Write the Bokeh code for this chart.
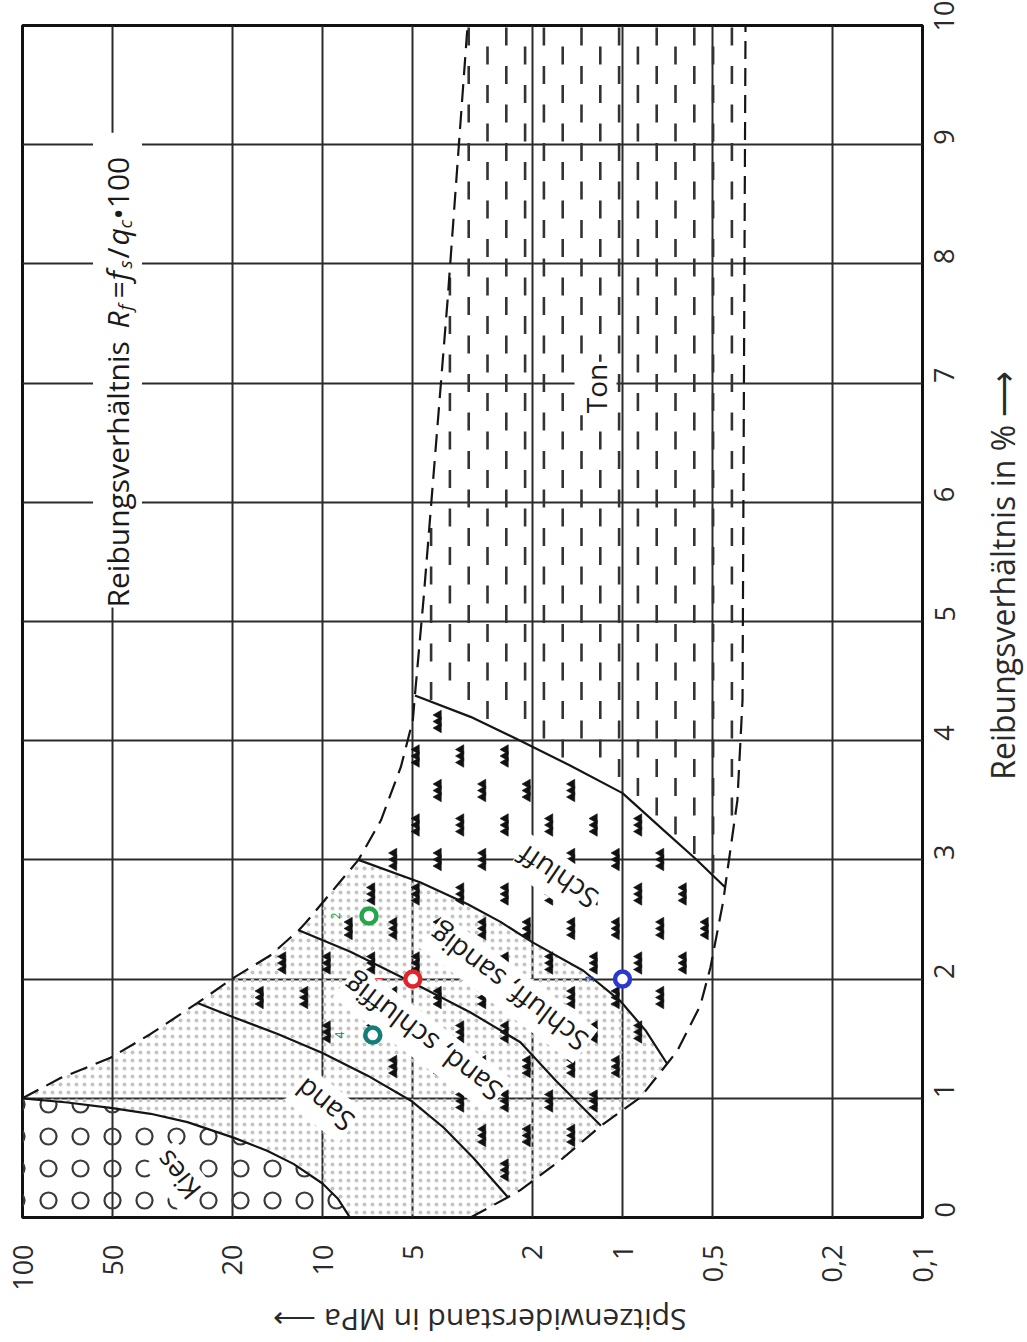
import math
from bokeh.plotting import figure
from bokeh.layouts import row, column
from bokeh.models import (FixedTicker, Range1d, CustomJSTickFormatter, ColumnDataSource)
from bokeh.core.properties import value
from bokeh.embed import file_html
from bokeh.resources import INLINE

# ------------------------------------------------------------------ data
# axis ticks
qc_ticks = [100, 50, 20, 10, 5, 2, 1, 0.5, 0.2, 0.1]
qc_tick_labels = ["100", "50", "20", "10", "5", "2", "1", "0,5", "0,2", "0,1"]
rf_ticks = [0, 1, 2, 3, 4, 5, 6, 7, 8, 9, 10]
rf_tick_labels = ["0", "1", "2", "3", "4", "5", "6", "7", "8", "9", "10"]

# zone boundaries: friction ratio Rf [%] and cone resistance qc [MPa]
kies_rf = [1.0, 0.965, 0.92, 0.87, 0.80, 0.67, 0.56, 0.45, 0.285, 0.16, 0.0]
kies_qc = [100, 70.8, 50.9, 37.4, 28.2, 19.8, 15.3, 12.5, 10.0, 8.9, 8.1]

upper_rf = [1.0, 1.17, 1.34, 1.54, 1.80, 2.01, 2.20, 2.41, 2.47, 3.0, 3.33, 3.78,
            4.17, 4.38, 5.20, 7.69, 9.93, 10.0]
upper_qc = [100, 74.7, 50.9, 37.4, 26.1, 19.8, 14.9, 12.0, 11.4, 7.59, 6.39, 5.48,
            5.0, 4.92, 4.60, 3.83, 3.30, 3.28]

lower_rf = [0.0, 0.17, 0.23, 0.48, 0.77, 1.01, 1.29, 1.40, 1.78, 2.10, 2.66, 2.77,
            3.50, 4.34, 10.0]
lower_qc = [3.21, 2.41, 2.19, 1.61, 1.18, 0.87, 0.71, 0.656, 0.55, 0.509, 0.461, 0.455,
            0.414, 0.398, 0.389]

sand_rf = [1.80, 1.68, 1.54, 1.38, 1.19, 0.98, 0.755, 0.50, 0.17]
sand_qc = [26.1, 19.8, 14.1, 10.0, 7.07, 5.07, 3.95, 3.14, 2.41]

sandschl_rf = [2.41, 2.23, 1.97, 1.72, 1.47, 1.15, 0.77]
sandschl_qc = [12.0, 8.07, 5.0, 3.21, 2.19, 1.67, 1.18]

schlsand_rf = [3.0, 2.81, 2.63, 2.48, 2.31, 2.07, 1.82, 1.57, 1.29]
schlsand_qc = [7.59, 4.71, 3.29, 2.55, 2.0, 1.35, 1.02, 0.838, 0.71]

schluff_rf = [4.38, 4.20, 4.00, 3.79, 3.56, 3.25, 3.01, 2.77]
schluff_qc = [4.92, 3.21, 2.19, 1.49, 1.0, 0.73, 0.571, 0.455]

# measured points
point_names = ["1", "2", "3", "4"]
point_rf = [2.0, 2.53, 2.0, 1.53]
point_qc = [5.0, 7.0, 1.0, 6.8]
point_colors = ["#e3232b", "#25a64b", "#2a38cf", "#137d78"]

zone_names = ["Kies", "Sand", "Sand, schluffig", "Schluff, sandig", "Schluff", "Ton"]

formula_parts = ["Reibungsverhältnis", "R", "f", "=", "f", "s", "/", "q", "c", "•100"]
x_title = "Spitzenwiderstand in MPa ⟶"
y_title = "Reibungsverhältnis in % ⟶"

# ------------------------------------------------------------------ layout
FONT = "Open Sans"
W, H = 1027, 1342            # whole page area
W1, H1 = 975, 1299           # main figure
FL, FT, FR, FB = 22, 25, 922, 1217      # frame edges on the page (px)


def page_to_data(px, py):
    qc = 10 ** (2 - 3 * (px - FL) / (FR - FL))
    rf = 10 * (FB - py) / (FB - FT)
    return qc, rf


def data_to_page(qc, rf):
    return FL + (FR - FL) * (2 - math.log10(qc)) / 3, FB - (FB - FT) * rf / 10


p = figure(width=W1, height=H1, x_axis_type="log",
           x_range=Range1d(100, 0.1), y_range=Range1d(0, 10),
           y_axis_location="right", toolbar_location=None, output_backend="svg",
           min_border_left=FL, min_border_top=FT,
           min_border_right=W1 - FR, min_border_bottom=H1 - FB)
p.background_fill_color = "white"
p.border_fill_color = "white"
p.outline_line_color = "#111111"
p.outline_line_width = 3

xa = p.xaxis[0]
ya = p.yaxis[0]
xa.ticker = FixedTicker(ticks=qc_ticks)
ya.ticker = FixedTicker(ticks=rf_ticks)
lab_code = """
let best = 0, d = Infinity;
for (let i = 0; i < tv.length; i++) {
  const e = Math.abs(Math.log(Math.abs(tick) + 1e-9) - Math.log(Math.abs(tv[i]) + 1e-9));
  if (e < d) { d = e; best = i; }
}
return tl[best];
"""
xa.formatter = CustomJSTickFormatter(args=dict(tv=qc_ticks, tl=qc_tick_labels), code=lab_code)
ya.formatter = CustomJSTickFormatter(args=dict(tv=rf_ticks, tl=rf_tick_labels), code=lab_code)
for ax in (xa, ya):
    ax.major_label_orientation = math.pi / 2
    ax.major_label_text_font = FONT
    ax.major_label_text_font_size = "27px"
    ax.major_label_text_color = "#2a2a2a"
    ax.major_tick_line_color = None
    ax.minor_tick_line_color = None
    ax.axis_line_color = None
xa.major_label_standoff = 21
ya.major_label_standoff = 16

for g, t in ((p.xgrid[0], qc_ticks), (p.ygrid[0], rf_ticks)):
    g.ticker = FixedTicker(ticks=t)
    g.grid_line_color = "#2b2b2b"
    g.grid_line_width = 2
    g.grid_line_alpha = 1.0


def pts(rf, qc):
    return list(zip(qc, rf))


def seg(rf, qc, a, b):
    lo, hi = min(a, b) - 1e-9, max(a, b) + 1e-9
    out = [(q, r) for r, q in zip(rf, qc) if lo <= r <= hi]
    return out[::-1] if a > b else out


kies_poly = [(100, 0.0)] + pts(kies_rf, kies_qc)
stipple_poly = (pts(kies_rf, kies_qc) + seg(lower_rf, lower_qc, 0.0, 1.29)
                + pts(schlsand_rf, schlsand_qc)[::-1] + seg(upper_rf, upper_qc, 3.0, 1.0))
tri_poly = (pts(sand_rf, sand_qc) + seg(lower_rf, lower_qc, 0.17, 2.77)
            + pts(schluff_rf, schluff_qc)[::-1] + seg(upper_rf, upper_qc, 4.38, 1.80))
ton_poly = (pts(schluff_rf, schluff_qc) + seg(lower_rf, lower_qc, 2.77, 10.0)
            + seg(upper_rf, upper_qc, 10.0, 4.38))


def patch(poly, **kw):
    p.patch([a for a, _ in poly], [b for _, b in poly],
            fill_color=None, line_color=None, **kw)


def inside(poly_px, x, y):
    c = False
    n = len(poly_px)
    for i in range(n):
        x1, y1 = poly_px[i]
        x2, y2 = poly_px[(i + 1) % n]
        if (y1 > y) != (y2 > y):
            xi = x1 + (y - y1) * (x2 - x1) / (y2 - y1)
            if x < xi:
                c = not c
    return c


def to_px(poly):
    return [data_to_page(q, r) for q, r in poly]


# area symbols (texture) laid out on a regular pixel lattice inside each zone
ton_px = to_px(ton_poly)
tx, ty = [], []
for k in range(-6, 18):
    x = 487 + 18.8 * k
    y0 = 55 if k % 2 == 0 else 36
    for j in range(-2, 34):
        y = y0 + 38.5 * j
        if inside(ton_px, x, y - 10) and inside(ton_px, x, y + 10) and 28 < y < 1214:
            q, r = page_to_data(x, y)
            tx.append(q)
            ty.append(r)

tri_px = to_px(tri_poly)
sx, sy = [], []
for j in range(-8, 16):
    y = 790 + 34.5 * j
    xoff = 0 if j % 2 == 0 else -22
    for k in range(-6, 10):
        x = 438 + xoff + 44.5 * k
        if inside(tri_px, x, y - 9) and inside(tri_px, x, y + 9) and inside(tri_px, x - 5, y):
            q, r = page_to_data(x, y)
            sx.append(q)
            sy.append(r)

patch(stipple_poly, hatch_pattern="dot", hatch_color="#c4c4c4", hatch_scale=8, hatch_weight=1)
patch(kies_poly, hatch_pattern="ring", hatch_color="#3a3a3a", hatch_scale=32, hatch_weight=2.2)
p.scatter(tx, ty, marker="dash", size=18, angle=math.pi / 2, line_color="#333333",
          line_width=2.6)
d_rf = 10 * 6.5 / (FB - FT)
for dy in (-d_rf, 0.0, d_rf):
    p.scatter(sx, [r + dy for r in sy], marker="triangle", size=9.5, angle=math.pi / 2,
              fill_color="#111111", line_color="#111111", line_width=0.6)

for rf, qc in ((kies_rf, kies_qc), (sand_rf, sand_qc), (sandschl_rf, sandschl_qc),
               (schlsand_rf, schlsand_qc), (schluff_rf, schluff_qc)):
    p.line(qc, rf, line_color="#151515", line_width=2.2)
for rf, qc in ((upper_rf, upper_qc), (lower_rf, lower_qc)):
    p.line(qc, rf, line_color="#151515", line_width=2.2, line_dash="18 9")

# zone labels (page px centre, angle deg)
zone_pos = [(177, 1175, 129), (324, 1105, 141), (422, 1038, 143),
            (508, 988, 143), (557, 877, 146), (595, 388, 90)]
zq, zr = zip(*[page_to_data(x, y) for x, y, _ in zone_pos])
zsrc = ColumnDataSource(dict(x=list(zq), y=list(zr), t=zone_names,
                             a=[math.radians(a) for _, _, a in zone_pos]))
p.text(x="x", y="y", text="t", angle="a", source=zsrc, text_font=value(FONT),
       text_font_size="28px", text_color="#1a1a1a", text_align="center",
       text_baseline="middle", background_fill_color="white", padding=2)

# formula text, rotated, composed of pieces
f_off = [0, 279, 297, 309, 327, 339, 349, 362, 379, 388]
f_style = ["normal", "italic", "italic", "normal", "italic", "italic",
           "normal", "italic", "italic", "normal"]
f_size = ["30px", "30px", "19px", "30px", "30px", "19px", "30px", "30px", "19px", "30px"]
f_shift = [0, 0, 7, 0, 0, 7, 0, 0, 7, 0]
fx, fy = [], []
for off, sh in zip(f_off, f_shift):
    q, r = page_to_data(117 + sh, 607 - off)
    fx.append(q)
    fy.append(r)
fsrc = ColumnDataSource(dict(x=fx, y=fy, t=formula_parts, st=f_style, sz=f_size))
p.text(x="x", y="y", text="t", source=fsrc, angle=math.pi / 2, text_font=value(FONT),
       text_font_size="sz", text_font_style="st", text_alpha=0,
       text_align="left", text_baseline="middle",
       background_fill_color="white", padding=[12, 4])
p.text(x="x", y="y", text="t", source=fsrc, angle=math.pi / 2, text_font=value(FONT),
       text_font_size="sz", text_font_style="st", text_color="#1a1a1a",
       text_align="left", text_baseline="middle")

# measured points
psrc = ColumnDataSource(dict(x=point_qc, y=point_rf, t=point_names, c=point_colors))
p.scatter(x="x", y="y", source=psrc, marker="circle", size=15, fill_color="white",
          line_color="c", line_width=4.5)
p.text(x="x", y="y", text="t", source=psrc, angle=math.pi / 2, x_offset=-33,
       text_color="c", text_font=value(FONT), text_font_size="12px",
       text_align="center", text_baseline="middle")


# ------------------------------------------------------------------ axis titles
def title_panel(w, h):
    f = figure(width=w, height=h, x_range=Range1d(0, w), y_range=Range1d(h, 0),
               toolbar_location=None, output_backend="svg",
               x_axis_location=None, y_axis_location=None,
               min_border=0, min_border_left=0, min_border_right=0,
               min_border_top=0, min_border_bottom=0)
    f.grid.visible = False
    f.outline_line_color = None
    f.background_fill_color = "white"
    f.border_fill_color = "white"
    return f


# titles start at the text's first letter (right title reads upward, bottom one is upside down)
pr = title_panel(W - W1, H1)
pr.text(x=[1002 - W1], y=[822], text=[y_title], angle=math.pi / 2,
        text_font=value(FONT), text_font_size="32px", text_color="#2a2a2a",
        text_align="left", text_baseline="middle")

pb = title_panel(W, H - H1)
pb.text(x=[686], y=[1320 - H1], text=[x_title], angle=math.pi,
        text_font=value(FONT), text_font_size="30px", text_color="#2a2a2a",
        text_align="left", text_baseline="middle")

layout = column(row(p, pr, spacing=0), pb, spacing=0)

with open("out.html", "w", encoding="utf-8") as fh:
    fh.write(file_html(layout, INLINE))
